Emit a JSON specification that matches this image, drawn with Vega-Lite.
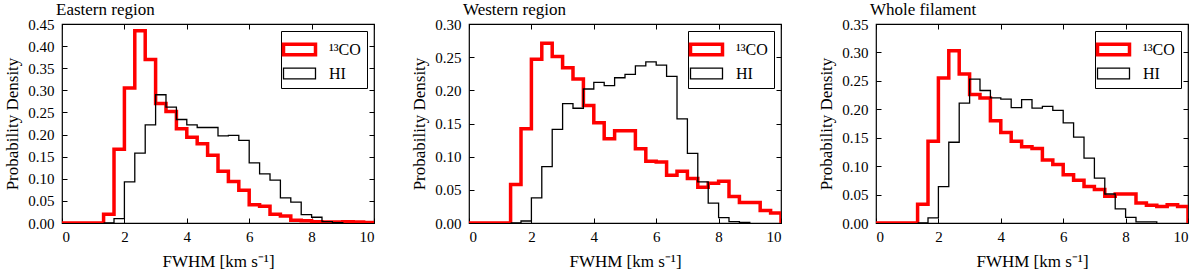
{
  "$schema": "https://vega.github.io/schema/vega-lite/v6.json",
  "padding": {"left": 3, "top": 0, "right": 5, "bottom": 5},
  "spacing": 95,
  "bounds": "flush",
  "datasets": {
    "E": [
      {"s":"¹³CO","x":0,"y":0},{"s":"¹³CO","x":0.333,"y":0},{"s":"¹³CO","x":0.667,"y":0},{"s":"¹³CO","x":1,"y":0},{"s":"¹³CO","x":1.333,"y":0.020},{"s":"¹³CO","x":1.667,"y":0.167},{"s":"¹³CO","x":2,"y":0.305},{"s":"¹³CO","x":2.333,"y":0.435},{"s":"¹³CO","x":2.667,"y":0.370},{"s":"¹³CO","x":3,"y":0.270},{"s":"¹³CO","x":3.333,"y":0.252},{"s":"¹³CO","x":3.667,"y":0.213},{"s":"¹³CO","x":4,"y":0.194},{"s":"¹³CO","x":4.333,"y":0.179},{"s":"¹³CO","x":4.667,"y":0.153},{"s":"¹³CO","x":5,"y":0.117},{"s":"¹³CO","x":5.333,"y":0.094},{"s":"¹³CO","x":5.667,"y":0.074},{"s":"¹³CO","x":6,"y":0.041},{"s":"¹³CO","x":6.333,"y":0.038},{"s":"¹³CO","x":6.667,"y":0.020},{"s":"¹³CO","x":7,"y":0.016},{"s":"¹³CO","x":7.333,"y":0.006},{"s":"¹³CO","x":7.667,"y":0.005},{"s":"¹³CO","x":8,"y":0.003},{"s":"¹³CO","x":8.333,"y":0.002},{"s":"¹³CO","x":8.667,"y":0.002},{"s":"¹³CO","x":9,"y":0.003},{"s":"¹³CO","x":9.333,"y":0.002},{"s":"¹³CO","x":9.667,"y":0.001},{"s":"¹³CO","x":10,"y":0},
      {"s":"HI","x":1.333,"y":0},{"s":"HI","x":1.667,"y":0.010},{"s":"HI","x":2,"y":0.093},{"s":"HI","x":2.333,"y":0.158},{"s":"HI","x":2.667,"y":0.222},{"s":"HI","x":3,"y":0.290},{"s":"HI","x":3.333,"y":0.262},{"s":"HI","x":3.667,"y":0.234},{"s":"HI","x":4,"y":0.222},{"s":"HI","x":4.333,"y":0.216},{"s":"HI","x":4.667,"y":0.216},{"s":"HI","x":5,"y":0.197},{"s":"HI","x":5.333,"y":0.198},{"s":"HI","x":5.667,"y":0.187},{"s":"HI","x":6,"y":0.136},{"s":"HI","x":6.333,"y":0.111},{"s":"HI","x":6.667,"y":0.097},{"s":"HI","x":7,"y":0.057},{"s":"HI","x":7.333,"y":0.047},{"s":"HI","x":7.667,"y":0.019},{"s":"HI","x":8,"y":0.013},{"s":"HI","x":8.333,"y":0.003},{"s":"HI","x":8.667,"y":0.001},{"s":"HI","x":9,"y":0}
    ],
    "W": [
      {"s":"¹³CO","x":0,"y":0},{"s":"¹³CO","x":0.333,"y":0},{"s":"¹³CO","x":0.667,"y":0},{"s":"¹³CO","x":1,"y":0},{"s":"¹³CO","x":1.333,"y":0.058},{"s":"¹³CO","x":1.667,"y":0.142},{"s":"¹³CO","x":2,"y":0.247},{"s":"¹³CO","x":2.333,"y":0.271},{"s":"¹³CO","x":2.667,"y":0.251},{"s":"¹³CO","x":3,"y":0.234},{"s":"¹³CO","x":3.333,"y":0.217},{"s":"¹³CO","x":3.667,"y":0.177},{"s":"¹³CO","x":4,"y":0.151},{"s":"¹³CO","x":4.333,"y":0.127},{"s":"¹³CO","x":4.667,"y":0.139},{"s":"¹³CO","x":5,"y":0.139},{"s":"¹³CO","x":5.333,"y":0.112},{"s":"¹³CO","x":5.667,"y":0.093},{"s":"¹³CO","x":6,"y":0.092},{"s":"¹³CO","x":6.333,"y":0.072},{"s":"¹³CO","x":6.667,"y":0.078},{"s":"¹³CO","x":7,"y":0.067},{"s":"¹³CO","x":7.333,"y":0.054},{"s":"¹³CO","x":7.667,"y":0.060},{"s":"¹³CO","x":8,"y":0.063},{"s":"¹³CO","x":8.333,"y":0.040},{"s":"¹³CO","x":8.667,"y":0.031},{"s":"¹³CO","x":9,"y":0.031},{"s":"¹³CO","x":9.333,"y":0.019},{"s":"¹³CO","x":9.667,"y":0.015},{"s":"¹³CO","x":10,"y":0},
      {"s":"HI","x":1.333,"y":0},{"s":"HI","x":1.667,"y":0.003},{"s":"HI","x":2,"y":0.038},{"s":"HI","x":2.333,"y":0.085},{"s":"HI","x":2.667,"y":0.141},{"s":"HI","x":3,"y":0.180},{"s":"HI","x":3.333,"y":0.173},{"s":"HI","x":3.667,"y":0.202},{"s":"HI","x":4,"y":0.212},{"s":"HI","x":4.333,"y":0.207},{"s":"HI","x":4.667,"y":0.219},{"s":"HI","x":5,"y":0.224},{"s":"HI","x":5.333,"y":0.237},{"s":"HI","x":5.667,"y":0.243},{"s":"HI","x":6,"y":0.238},{"s":"HI","x":6.333,"y":0.221},{"s":"HI","x":6.667,"y":0.157},{"s":"HI","x":7,"y":0.105},{"s":"HI","x":7.333,"y":0.062},{"s":"HI","x":7.667,"y":0.030},{"s":"HI","x":8,"y":0.008},{"s":"HI","x":8.333,"y":0.002},{"s":"HI","x":8.667,"y":0.001},{"s":"HI","x":9,"y":0}
    ],
    "A": [
      {"s":"¹³CO","x":0,"y":0},{"s":"¹³CO","x":0.333,"y":0},{"s":"¹³CO","x":0.667,"y":0},{"s":"¹³CO","x":1,"y":0},{"s":"¹³CO","x":1.333,"y":0.033},{"s":"¹³CO","x":1.667,"y":0.144},{"s":"¹³CO","x":2,"y":0.255},{"s":"¹³CO","x":2.333,"y":0.303},{"s":"¹³CO","x":2.667,"y":0.262},{"s":"¹³CO","x":3,"y":0.226},{"s":"¹³CO","x":3.333,"y":0.220},{"s":"¹³CO","x":3.667,"y":0.180},{"s":"¹³CO","x":4,"y":0.159},{"s":"¹³CO","x":4.333,"y":0.144},{"s":"¹³CO","x":4.667,"y":0.134},{"s":"¹³CO","x":5,"y":0.131},{"s":"¹³CO","x":5.333,"y":0.111},{"s":"¹³CO","x":5.667,"y":0.103},{"s":"¹³CO","x":6,"y":0.085},{"s":"¹³CO","x":6.333,"y":0.075},{"s":"¹³CO","x":6.667,"y":0.064},{"s":"¹³CO","x":7,"y":0.059},{"s":"¹³CO","x":7.333,"y":0.047},{"s":"¹³CO","x":7.667,"y":0.051},{"s":"¹³CO","x":8,"y":0.051},{"s":"¹³CO","x":8.333,"y":0.035},{"s":"¹³CO","x":8.667,"y":0.031},{"s":"¹³CO","x":9,"y":0.029},{"s":"¹³CO","x":9.333,"y":0.032},{"s":"¹³CO","x":9.667,"y":0.029},{"s":"¹³CO","x":10,"y":0},
      {"s":"HI","x":1.333,"y":0},{"s":"HI","x":1.667,"y":0.009},{"s":"HI","x":2,"y":0.064},{"s":"HI","x":2.333,"y":0.142},{"s":"HI","x":2.667,"y":0.211},{"s":"HI","x":3,"y":0.253},{"s":"HI","x":3.333,"y":0.233},{"s":"HI","x":3.667,"y":0.220},{"s":"HI","x":4,"y":0.218},{"s":"HI","x":4.333,"y":0.203},{"s":"HI","x":4.667,"y":0.217},{"s":"HI","x":5,"y":0.202},{"s":"HI","x":5.333,"y":0.205},{"s":"HI","x":5.667,"y":0.198},{"s":"HI","x":6,"y":0.176},{"s":"HI","x":6.333,"y":0.151},{"s":"HI","x":6.667,"y":0.114},{"s":"HI","x":7,"y":0.079},{"s":"HI","x":7.333,"y":0.051},{"s":"HI","x":7.667,"y":0.025},{"s":"HI","x":8,"y":0.010},{"s":"HI","x":8.333,"y":0.002},{"s":"HI","x":8.667,"y":0.002},{"s":"HI","x":9,"y":0}
    ]
  },
  "resolve": {"scale": {"color": "independent", "strokeWidth": "independent"}},
  "hconcat": [
    {
      "data": {"name": "E"},
      "width": 312, "height": 199,
      "title": {"text": "Eastern region"},
      "layer": [
        {
          "transform": [{"filter": "datum.s != 'HI'"}],
          "mark": {"type": "line", "interpolate": "step-after", "clip": true},
          "encoding": {
            "x": {"field": "x", "type": "quantitative", "scale": {"domain": [0, 10], "nice": false, "zero": false}, "axis": {"orient": "bottom", "values": [0, 2, 4, 6, 8, 10], "format": "d", "title": "FWHM [km s⁻¹]"}},
            "y": {"field": "y", "type": "quantitative", "scale": {"domain": [0, 0.45], "nice": false}, "axis": {"orient": "left", "values": [0, 0.05, 0.1, 0.15, 0.2, 0.25, 0.3, 0.35, 0.4, 0.45], "format": ".2f", "title": "Probability Density"}},
            "color": {"field": "s", "type": "nominal", "scale": {"domain": ["¹³CO", "HI"], "range": ["#ff0000", "#000000"]}, "legend": {"title": null}},
            "strokeWidth": {"field": "s", "type": "nominal", "scale": {"domain": ["¹³CO", "HI"], "range": [3.5, 1.3]}, "legend": {"title": null}}
          }
        },
        {
          "transform": [{"filter": "datum.s == 'HI'"}],
          "mark": {"type": "line", "interpolate": "step-after", "clip": true},
          "encoding": {
            "x": {"field": "x", "type": "quantitative", "scale": {"domain": [0, 10], "nice": false, "zero": false}, "axis": {"orient": "top", "values": [0, 2, 4, 6, 8, 10], "labels": false, "title": null}},
            "y": {"field": "y", "type": "quantitative", "scale": {"domain": [0, 0.45], "nice": false}, "axis": {"orient": "right", "values": [0, 0.05, 0.1, 0.15, 0.2, 0.25, 0.3, 0.35, 0.4, 0.45], "labels": false, "title": null}},
            "color": {"field": "s", "type": "nominal", "scale": {"domain": ["¹³CO", "HI"], "range": ["#ff0000", "#000000"]}, "legend": {"title": null}},
            "strokeWidth": {"field": "s", "type": "nominal", "scale": {"domain": ["¹³CO", "HI"], "range": [3.5, 1.3]}, "legend": {"title": null}}
          }
        }
      ],
      "resolve": {"axis": {"x": "independent", "y": "independent"}}
    },
    {
      "data": {"name": "W"},
      "width": 312, "height": 199,
      "title": {"text": "Western region"},
      "layer": [
        {
          "transform": [{"filter": "datum.s != 'HI'"}],
          "mark": {"type": "line", "interpolate": "step-after", "clip": true},
          "encoding": {
            "x": {"field": "x", "type": "quantitative", "scale": {"domain": [0, 10], "nice": false, "zero": false}, "axis": {"orient": "bottom", "values": [0, 2, 4, 6, 8, 10], "format": "d", "title": "FWHM [km s⁻¹]"}},
            "y": {"field": "y", "type": "quantitative", "scale": {"domain": [0, 0.3], "nice": false}, "axis": {"orient": "left", "values": [0, 0.05, 0.1, 0.15, 0.2, 0.25, 0.3], "format": ".2f", "title": "Probability Density"}},
            "color": {"field": "s", "type": "nominal", "scale": {"domain": ["¹³CO", "HI"], "range": ["#ff0000", "#000000"]}, "legend": {"title": null}},
            "strokeWidth": {"field": "s", "type": "nominal", "scale": {"domain": ["¹³CO", "HI"], "range": [3.5, 1.3]}, "legend": {"title": null}}
          }
        },
        {
          "transform": [{"filter": "datum.s == 'HI'"}],
          "mark": {"type": "line", "interpolate": "step-after", "clip": true},
          "encoding": {
            "x": {"field": "x", "type": "quantitative", "scale": {"domain": [0, 10], "nice": false, "zero": false}, "axis": {"orient": "top", "values": [0, 2, 4, 6, 8, 10], "labels": false, "title": null}},
            "y": {"field": "y", "type": "quantitative", "scale": {"domain": [0, 0.3], "nice": false}, "axis": {"orient": "right", "values": [0, 0.05, 0.1, 0.15, 0.2, 0.25, 0.3], "labels": false, "title": null}},
            "color": {"field": "s", "type": "nominal", "scale": {"domain": ["¹³CO", "HI"], "range": ["#ff0000", "#000000"]}, "legend": {"title": null}},
            "strokeWidth": {"field": "s", "type": "nominal", "scale": {"domain": ["¹³CO", "HI"], "range": [3.5, 1.3]}, "legend": {"title": null}}
          }
        }
      ],
      "resolve": {"axis": {"x": "independent", "y": "independent"}}
    },
    {
      "data": {"name": "A"},
      "width": 312, "height": 199,
      "title": {"text": "Whole filament"},
      "layer": [
        {
          "transform": [{"filter": "datum.s != 'HI'"}],
          "mark": {"type": "line", "interpolate": "step-after", "clip": true},
          "encoding": {
            "x": {"field": "x", "type": "quantitative", "scale": {"domain": [0, 10], "nice": false, "zero": false}, "axis": {"orient": "bottom", "values": [0, 2, 4, 6, 8, 10], "format": "d", "title": "FWHM [km s⁻¹]"}},
            "y": {"field": "y", "type": "quantitative", "scale": {"domain": [0, 0.35], "nice": false}, "axis": {"orient": "left", "values": [0, 0.05, 0.1, 0.15, 0.2, 0.25, 0.3, 0.35], "format": ".2f", "title": "Probability Density"}},
            "color": {"field": "s", "type": "nominal", "scale": {"domain": ["¹³CO", "HI"], "range": ["#ff0000", "#000000"]}, "legend": {"title": null}},
            "strokeWidth": {"field": "s", "type": "nominal", "scale": {"domain": ["¹³CO", "HI"], "range": [3.5, 1.3]}, "legend": {"title": null}}
          }
        },
        {
          "transform": [{"filter": "datum.s == 'HI'"}],
          "mark": {"type": "line", "interpolate": "step-after", "clip": true},
          "encoding": {
            "x": {"field": "x", "type": "quantitative", "scale": {"domain": [0, 10], "nice": false, "zero": false}, "axis": {"orient": "top", "values": [0, 2, 4, 6, 8, 10], "labels": false, "title": null}},
            "y": {"field": "y", "type": "quantitative", "scale": {"domain": [0, 0.35], "nice": false}, "axis": {"orient": "right", "values": [0, 0.05, 0.1, 0.15, 0.2, 0.25, 0.3, 0.35], "labels": false, "title": null}},
            "color": {"field": "s", "type": "nominal", "scale": {"domain": ["¹³CO", "HI"], "range": ["#ff0000", "#000000"]}, "legend": {"title": null}},
            "strokeWidth": {"field": "s", "type": "nominal", "scale": {"domain": ["¹³CO", "HI"], "range": [3.5, 1.3]}, "legend": {"title": null}}
          }
        }
      ],
      "resolve": {"axis": {"x": "independent", "y": "independent"}}
    }
  ],
  "config": {
    "font": "Liberation Serif",
    "view": {"stroke": "#000000", "strokeWidth": 1.2},
    "axis": {
      "domain": false, "grid": false,
      "tickColor": "#000000", "tickSize": -5, "tickWidth": 1,
      "labelFont": "Liberation Serif", "labelFontSize": 15, "labelColor": "#000000", "labelPadding": 13,
      "titleFont": "Liberation Serif", "titleFontSize": 17, "titleFontWeight": "normal", "titleColor": "#000000"
    },
    "axisY": {"titlePadding": 6},
    "axisX": {"labelPadding": 11, "titlePadding": 9},
    "title": {"font": "Liberation Serif", "fontSize": 17, "fontWeight": "normal", "anchor": "start", "frame": "group", "dx": -6, "offset": -2, "color": "#000000"},
    "legend": {
      "orient": "top-right", "offset": 7,
      "strokeColor": "#000000", "fillColor": "#ffffff", "padding": 6, "cornerRadius": 0,
      "labelFont": "Liberation Serif", "labelFontSize": 16, "labelColor": "#000000", "labelOffset": 17,
      "symbolType": "M-1.5,-0.5H1.5V0.5H-1.5Z", "symbolSize": 455, "symbolFillColor": "transparent",
      "rowPadding": 0
    }
  }
}
